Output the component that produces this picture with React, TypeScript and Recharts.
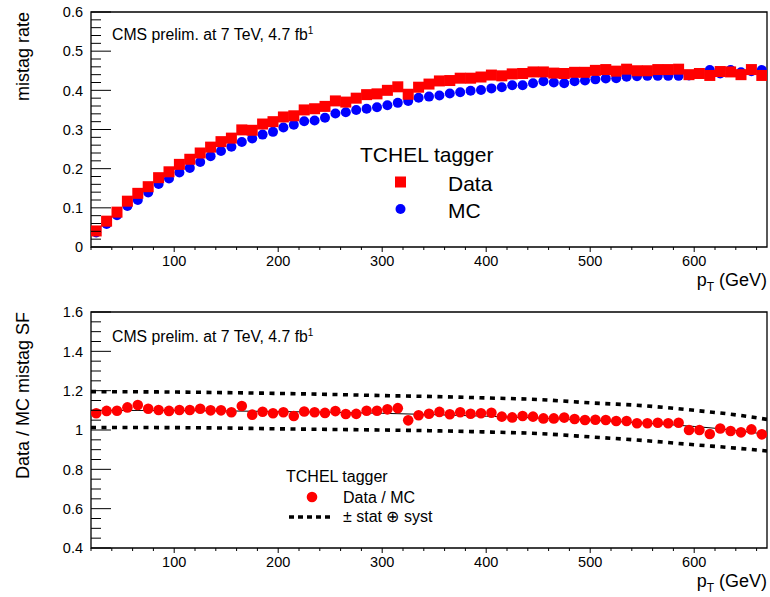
import React from 'react';
import { ComposedChart, Scatter, Line, XAxis, YAxis, ReferenceArea } from 'recharts';

// pT bin centres (GeV), 10 GeV wide bins from 20 to 670
const ptBins = [
  25, 35, 45, 55, 65, 75, 85, 95, 105, 115, 125, 135, 145, 155, 165, 175, 185, 195, 205, 215,
  225, 235, 245, 255, 265, 275, 285, 295, 305, 315, 325, 335, 345, 355, 365, 375, 385, 395, 405, 415,
  425, 435, 445, 455, 465, 475, 485, 495, 505, 515, 525, 535, 545, 555, 565, 575, 585, 595, 605, 615,
  625, 635, 645, 655, 665,
];

// mistag rate measured in data
const dataRate = [
  0.041, 0.066, 0.089, 0.117, 0.137, 0.154, 0.177, 0.192, 0.211, 0.224, 0.240, 0.255, 0.269, 0.278, 0.299, 0.298, 0.314, 0.320, 0.332, 0.335,
  0.350, 0.353, 0.359, 0.373, 0.370, 0.380, 0.389, 0.391, 0.400, 0.409, 0.390, 0.408, 0.416, 0.424, 0.425, 0.431, 0.431, 0.434, 0.439, 0.437,
  0.442, 0.443, 0.447, 0.447, 0.444, 0.443, 0.446, 0.446, 0.451, 0.453, 0.449, 0.454, 0.450, 0.450, 0.453, 0.453, 0.454, 0.440, 0.443, 0.438,
  0.448, 0.447, 0.440, 0.453, 0.438,
];

// mistag rate in simulation
const mcRate = [
  0.037, 0.059, 0.081, 0.105, 0.120, 0.139, 0.161, 0.175, 0.190, 0.202, 0.217, 0.232, 0.245, 0.256, 0.268, 0.277, 0.287, 0.294, 0.305, 0.312,
  0.321, 0.323, 0.330, 0.341, 0.344, 0.350, 0.353, 0.357, 0.362, 0.368, 0.373, 0.381, 0.384, 0.387, 0.392, 0.395, 0.399, 0.401, 0.405, 0.408,
  0.413, 0.413, 0.418, 0.423, 0.420, 0.418, 0.423, 0.425, 0.428, 0.430, 0.431, 0.435, 0.436, 0.437, 0.437, 0.437, 0.437, 0.438, 0.442, 0.452,
  0.443, 0.452, 0.446, 0.449, 0.452,
];

// Data / MC scale factor per bin
const sfRatio = [
  1.085, 1.097, 1.098, 1.115, 1.127, 1.108, 1.102, 1.097, 1.102, 1.102, 1.108, 1.100, 1.100, 1.090, 1.122, 1.078, 1.093, 1.085, 1.090, 1.071,
  1.094, 1.090, 1.087, 1.096, 1.081, 1.082, 1.098, 1.098, 1.105, 1.111, 1.049, 1.075, 1.083, 1.092, 1.080, 1.090, 1.083, 1.085, 1.088, 1.068,
  1.064, 1.071, 1.068, 1.059, 1.059, 1.063, 1.056, 1.051, 1.052, 1.051, 1.046, 1.046, 1.034, 1.034, 1.037, 1.034, 1.037, 1.000, 1.000, 0.980,
  1.008, 0.995, 0.988, 1.003, 0.978,
];

// Fitted scale factor and its stat (+) syst envelope, sampled along pT
const fitPt = [20, 100, 150, 200, 250, 300, 350, 400, 450, 500, 550, 600, 640, 670];
const fitCentral = [1.100, 1.099, 1.097, 1.094, 1.090, 1.085, 1.078, 1.070, 1.061, 1.050, 1.036, 1.018, 0.998, 0.977];
const fitUpper = [1.195, 1.193, 1.190, 1.186, 1.181, 1.175, 1.170, 1.163, 1.155, 1.138, 1.124, 1.100, 1.077, 1.054];
const fitLower = [1.013, 1.012, 1.010, 1.006, 1.003, 1.000, 0.996, 0.990, 0.982, 0.965, 0.947, 0.925, 0.908, 0.893];

// Axis ticks
const xMajorTicks = [100, 200, 300, 400, 500, 600];
const xTickLabels = ['100', '200', '300', '400', '500', '600'];
const xMinorTicks = [
  20, 40, 60, 80, 120, 140, 160, 180, 220, 240, 260, 280, 320, 340, 360, 380,
  420, 440, 460, 480, 520, 540, 560, 580, 620, 640, 660,
];
const rateMajorTicks = [0, 0.1, 0.2, 0.3, 0.4, 0.5, 0.6];
const rateTickLabels = ['0', '0.1', '0.2', '0.3', '0.4', '0.5', '0.6'];
const rateMinorTicks = [
  0.02, 0.04, 0.06, 0.08, 0.12, 0.14, 0.16, 0.18, 0.22, 0.24, 0.26, 0.28,
  0.32, 0.34, 0.36, 0.38, 0.42, 0.44, 0.46, 0.48, 0.52, 0.54, 0.56, 0.58,
];
const sfMajorTicks = [0.4, 0.6, 0.8, 1.0, 1.2, 1.4, 1.6];
const sfTickLabels = ['0.4', '0.6', '0.8', '1', '1.2', '1.4', '1.6'];
const sfMinorTicks = [
  0.45, 0.5, 0.55, 0.65, 0.7, 0.75, 0.85, 0.9, 0.95, 1.05, 1.1, 1.15,
  1.25, 1.3, 1.35, 1.45, 1.5, 1.55,
];

const FONT = '"Liberation Sans", Arial, Helvetica, sans-serif';
const RED = '#ff0000';
const BLUE = '#0000ff';

const rateRows = ptBins.map((pt, i) => ({ pt, data: dataRate[i], mc: mcRate[i] }));
const sfRows = ptBins.map((pt, i) => ({ pt, sf: sfRatio[i] }));
const fitRows = fitPt.map((pt, i) => ({ pt, fit: fitCentral[i], up: fitUpper[i], down: fitLower[i] }));

const sortNum = (a: number[]) => [...a].sort((p, q) => p - q);
const xAllTicks = sortNum([...xMajorTicks, ...xMinorTicks]);
const rateAllTicks = sortNum([...rateMajorTicks, ...rateMinorTicks]);
const sfAllTicks = sortNum([...sfMajorTicks, ...sfMinorTicks]);

const findMajor = (majors: number[], v: number) => majors.findIndex((m) => Math.abs(m - v) < 1e-6);

// Inward-pointing y ticks with labels to the left of the frame
const makeYTick = (majors: number[], labels: string[]) => (props: any) => {
  const { x, y, payload } = props;
  const idx = findMajor(majors, payload.value);
  const len = idx >= 0 ? 20 : 10;
  return (
    <g>
      <line x1={x} x2={x + len} y1={y} y2={y} stroke="#000" strokeWidth={1} />
      {idx >= 0 && (
        <text x={x - 8} y={y} dy="0.36em" textAnchor="end" fontFamily={FONT} fontSize={14.5} fill="#000">
          {labels[idx]}
        </text>
      )}
    </g>
  );
};

// Outward x ticks below the frame
const XTick = (props: any) => {
  const { x, y, payload } = props;
  const idx = findMajor(xMajorTicks, payload.value);
  const len = idx >= 0 ? 5 : 3;
  return (
    <g>
      <line x1={x} x2={x} y1={y} y2={y + len} stroke="#000" strokeWidth={1} />
      {idx >= 0 && (
        <text x={x} y={y + 14} dy="0.36em" textAnchor="middle" fontFamily={FONT} fontSize={14.5} fill="#000">
          {xTickLabels[idx]}
        </text>
      )}
    </g>
  );
};

const squareShape = (p: any) => <rect x={p.cx - 5.5} y={p.cy - 5.5} width={11} height={11} fill={RED} />;
const blueDot = (p: any) => <circle cx={p.cx} cy={p.cy} r={5} fill={BLUE} />;
const redDot = (p: any) => <circle cx={p.cx} cy={p.cy} r={5.3} fill={RED} />;

const xAxisProps = {
  type: 'number' as const,
  dataKey: 'pt',
  domain: [20, 670] as [number, number],
  ticks: xAllTicks,
  interval: 0 as const,
  allowDataOverflow: true,
  tickSize: 0,
  tickMargin: 0,
  tickLine: false,
  axisLine: false,
  tick: XTick,
  height: 30,
};

const PtTitle = ({ y }: { y: number }) => (
  <text x={767} y={y} textAnchor="end" fontFamily={FONT} fontSize={18} fill="#000">
    p
    <tspan dy={4.5} fontSize={12}>T</tspan>
    <tspan dy={-4.5}> (GeV)</tspan>
  </text>
);

const CmsLabel = ({ y }: { y: number }) => (
  <text x={112} y={y} fontFamily={FONT} fontSize={15.8} fill="#000">
    CMS prelim. at 7 TeV, 4.7 fb
    <tspan dy={-6} fontSize={10}>1</tspan>
  </text>
);

export default function App() {
  return (
    <div style={{ position: 'absolute', left: 0, top: 0, width: 770, height: 597, background: '#fff' }}>
      <div style={{ position: 'absolute', left: 0, top: 0 }}>
        <ComposedChart width={770} height={290} margin={{ top: 12, right: 3, bottom: 13, left: 51 }}>
          <XAxis {...xAxisProps} />
          <YAxis
            type="number"
            domain={[0, 0.6]}
            ticks={rateAllTicks}
            interval={0}
            allowDataOverflow
            tickSize={0}
            tickMargin={0}
            tickLine={false}
            axisLine={false}
            width={40}
            tick={makeYTick(rateMajorTicks, rateTickLabels)}
          />
          <Scatter data={rateRows} dataKey="mc" shape={blueDot} isAnimationActive={false} />
          <Scatter data={rateRows} dataKey="data" shape={squareShape} isAnimationActive={false} />
          <ReferenceArea x1={20} x2={670} y1={0} y2={0.6} fill="none" fillOpacity={0} stroke="#000" strokeWidth={1.3} />
        </ComposedChart>
      </div>
      <div style={{ position: 'absolute', left: 0, top: 290 }}>
        <ComposedChart width={770} height={307} margin={{ top: 22, right: 3, bottom: 19, left: 51 }}>
          <XAxis {...xAxisProps} />
          <YAxis
            type="number"
            domain={[0.4, 1.6]}
            ticks={sfAllTicks}
            interval={0}
            allowDataOverflow
            tickSize={0}
            tickMargin={0}
            tickLine={false}
            axisLine={false}
            width={40}
            tick={makeYTick(sfMajorTicks, sfTickLabels)}
          />
          <Line data={fitRows} dataKey="up" type="monotone" dot={false} stroke="#000" strokeWidth={3.6} strokeDasharray="5 5.5" isAnimationActive={false} />
          <Line data={fitRows} dataKey="down" type="monotone" dot={false} stroke="#000" strokeWidth={3.6} strokeDasharray="5 5.5" isAnimationActive={false} />
          <Scatter data={sfRows} dataKey="sf" shape={redDot} isAnimationActive={false} />
          <Line data={fitRows} dataKey="fit" type="monotone" dot={false} stroke="#000" strokeWidth={1} isAnimationActive={false} />
          <ReferenceArea x1={20} x2={670} y1={0.4} y2={1.6} fill="none" fillOpacity={0} stroke="#000" strokeWidth={1.3} />
        </ComposedChart>
      </div>
      <svg width={770} height={597} style={{ position: 'absolute', left: 0, top: 0, pointerEvents: 'none' }}>
        {/* axis titles */}
        <text transform="translate(29,12) rotate(-90)" textAnchor="end" fontFamily={FONT} fontSize={18} fill="#000">
          mistag rate
        </text>
        <text transform="translate(29,312) rotate(-90)" textAnchor="end" fontFamily={FONT} fontSize={18} fill="#000">
          Data / MC mistag SF
        </text>
        <PtTitle y={286} />
        <PtTitle y={587} />
        <CmsLabel y={40} />
        <CmsLabel y={341.5} />

        {/* upper legend */}
        <text x={360} y={162} fontFamily={FONT} fontSize={21} fill="#000">TCHEL tagger</text>
        <rect x={395} y={176.5} width={11} height={11} fill={RED} />
        <text x={448} y={190.5} fontFamily={FONT} fontSize={21} fill="#000">Data</text>
        <circle cx={400.5} cy={209} r={5} fill={BLUE} />
        <text x={448} y={218} fontFamily={FONT} fontSize={21} fill="#000">MC</text>

        {/* lower legend */}
        <text x={286} y={481.5} fontFamily={FONT} fontSize={16} fill="#000">TCHEL tagger</text>
        <circle cx={312} cy={497} r={5.3} fill={RED} />
        <text x={343} y={503} fontFamily={FONT} fontSize={16} fill="#000">Data / MC</text>
        <line x1={289} x2={333} y1={517} y2={517} stroke="#000" strokeWidth={3.6} strokeDasharray="5 4" />
        <text x={343} y={521.5} fontFamily={FONT} fontSize={16} fill="#000">± stat ⊕ syst</text>
      </svg>
    </div>
  );
}
